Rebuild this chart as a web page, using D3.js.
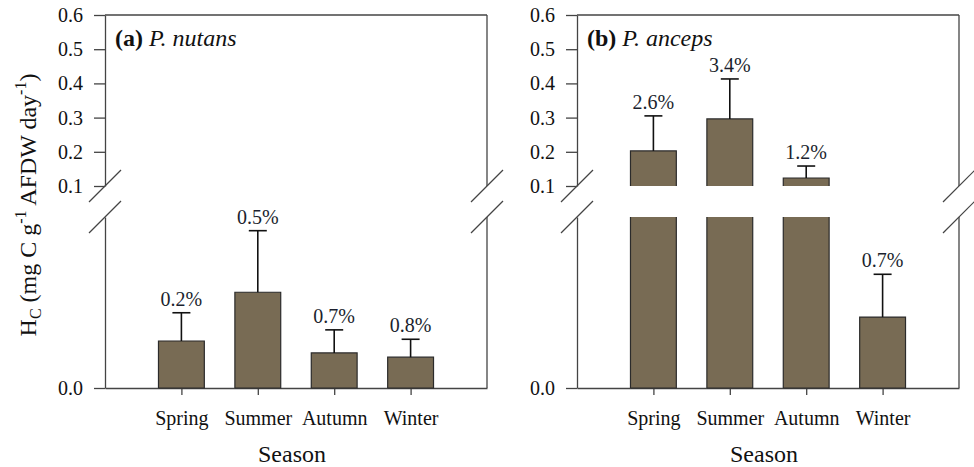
<!DOCTYPE html>
<html>
<head>
<meta charset="utf-8">
<script src="https://cdn.jsdelivr.net/npm/d3@7"></script>
<style>
  body { margin: 0; background: #fff; }
  svg { display: block; }
</style>
</head>
<body>
<svg id="chart" width="974" height="467"></svg>
<script>
const seasons = ["Spring", "Summer", "Autumn", "Winter"];

// P. nutans (all values below the break)
const nutansMean = [0.0055, 0.0112, 0.0041, 0.0036];
const nutansErr = [0.0033, 0.0072, 0.0027, 0.0021];
const nutansPct = ["0.2%", "0.5%", "0.7%", "0.8%"];

// P. anceps
const ancepsMean = [0.2025, 0.296, 0.1234, 0.0083];
const ancepsErr = [0.1025, 0.117, 0.035, 0.005];
const ancepsPct = ["2.6%", "3.4%", "1.2%", "0.7%"];

const topTicks = [0.1, 0.2, 0.3, 0.4, 0.5, 0.6];
const bottomTicks = [0.0];

const serif = "'Liberation Serif', 'Times New Roman', 'DejaVu Serif', serif";
const axisColor = "#444";

const panelWidth = 382;
const breakTop = 186;   // bottom of upper segment (0.1)
const breakLow = 217;   // top of lower segment

const x = d3.scaleLinear().domain([0, 5]).range([0, panelWidth]);
const yTop = d3.scaleLinear().domain([0.1, 0.6]).range([breakTop, 15]);
const yBot = d3.scaleLinear().domain([0, 0.02]).range([388, breakLow]);
const y = v => v >= yTop.domain()[0] ? yTop(v) : yBot(v);

const barWidth = x(0.6) - x(0);
const barFill = "#786b54";
const barStroke = "#2b2b2b";

const svg = d3.select("#chart");

function styleAxis(sel) {
  sel.attr("font-family", serif).attr("font-size", 20);
  sel.selectAll("path, line").attr("stroke", axisColor).attr("stroke-width", 1.3);
  sel.selectAll("text").attr("fill", "#111");
}

const panels = [
  { left: 105, tag: "(a)", name: "P. nutans", mean: nutansMean, err: nutansErr, pct: nutansPct },
  { left: 577, tag: "(b)", name: "P. anceps", mean: ancepsMean, err: ancepsErr, pct: ancepsPct }
];

panels.forEach(p => {
  const g = svg.append("g").attr("transform", `translate(${p.left},0)`);

  // axes
  g.append("g")
    .call(d3.axisLeft(yTop).tickValues(topTicks).tickFormat(d3.format(".1f"))
      .tickSize(11).tickPadding(11).tickSizeOuter(0))
    .call(styleAxis);
  g.append("g")
    .call(d3.axisLeft(yBot).tickValues(bottomTicks).tickFormat(d3.format(".1f"))
      .tickSize(11).tickPadding(11).tickSizeOuter(0))
    .call(styleAxis);
  g.append("g")
    .attr("transform", `translate(0,${yBot(0)})`)
    .call(d3.axisBottom(x).tickValues([1, 2, 3, 4]).tickFormat(i => seasons[i - 1])
      .tickSize(7).tickPadding(16).tickSizeOuter(0))
    .call(styleAxis);

  // frame: top and right
  g.append("line").attr("x1", 0).attr("x2", panelWidth)
    .attr("y1", yTop(0.6)).attr("y2", yTop(0.6))
    .attr("stroke", axisColor).attr("stroke-width", 1.3);
  g.append("line").attr("x1", panelWidth).attr("x2", panelWidth)
    .attr("y1", yTop(0.6)).attr("y2", breakTop)
    .attr("stroke", axisColor).attr("stroke-width", 1.3);
  g.append("line").attr("x1", panelWidth).attr("x2", panelWidth)
    .attr("y1", breakLow).attr("y2", yBot(0))
    .attr("stroke", axisColor).attr("stroke-width", 1.3);

  // break marks
  [0, panelWidth].forEach(ax => {
    [breakTop, breakLow].forEach(yc => {
      g.append("line")
        .attr("x1", ax - 16).attr("y1", yc + 16)
        .attr("x2", ax + 16).attr("y2", yc - 16)
        .attr("stroke", axisColor).attr("stroke-width", 1.2);
    });
  });

  // bars
  p.mean.forEach((m, i) => {
    const x0 = x(i + 1) - barWidth / 2;
    const x1 = x(i + 1) + barWidth / 2;
    const pieces = [];
    if (m >= yTop.domain()[0]) {
      pieces.push({ bottom: yBot(0), top: breakLow, closedTop: false });
      pieces.push({ bottom: breakTop, top: yTop(m), closedTop: true, openBottom: true });
    } else {
      pieces.push({ bottom: yBot(0), top: yBot(m), closedTop: true });
    }
    pieces.forEach(pc => {
      g.append("rect")
        .attr("x", x0).attr("y", pc.top)
        .attr("width", x1 - x0).attr("height", pc.bottom - pc.top)
        .attr("fill", barFill);
      const path = d3.path();
      path.moveTo(x0, pc.bottom);
      path.lineTo(x0, pc.top);
      if (pc.closedTop) path.lineTo(x1, pc.top); else path.moveTo(x1, pc.top);
      path.lineTo(x1, pc.bottom);
      if (!pc.openBottom) path.lineTo(x0, pc.bottom);
      g.append("path").attr("d", path.toString())
        .attr("fill", "none").attr("stroke", barStroke).attr("stroke-width", 1.2);
    });

    // error bar
    const cx = x(i + 1);
    const yMean = y(m);
    const yErr = y(m + p.err[i]);
    g.append("line").attr("x1", cx).attr("x2", cx)
      .attr("y1", yMean).attr("y2", yErr)
      .attr("stroke", "#111").attr("stroke-width", 1.6);
    g.append("line").attr("x1", cx - 9).attr("x2", cx + 9)
      .attr("y1", yErr).attr("y2", yErr)
      .attr("stroke", "#111").attr("stroke-width", 1.6);

    g.append("text")
      .attr("x", cx).attr("y", yErr - 7)
      .attr("text-anchor", "middle")
      .attr("font-family", serif)
      .attr("font-size", 20)
      .attr("fill", "#1b1f2e")
      .text(p.pct[i]);
  });

  // panel title
  const title = g.append("text")
    .attr("x", 10).attr("y", 46)
    .attr("font-family", serif)
    .attr("font-size", 24).attr("fill", "#111");
  title.append("tspan").attr("font-weight", "bold").text(p.tag);
  title.append("tspan").attr("font-style", "italic").text(" " + p.name);

  // x label
  g.append("text")
    .attr("x", panelWidth / 2 - 4).attr("y", 462)
    .attr("text-anchor", "middle")
    .attr("font-family", serif)
    .attr("font-size", 24).attr("fill", "#111")
    .text("Season");
});

// y label
const yl = svg.append("text")
  .attr("transform", "translate(36,205) rotate(-90)")
  .attr("text-anchor", "middle")
  .attr("font-family", serif)
  .attr("font-size", 24).attr("fill", "#111");
yl.append("tspan").text("H");
yl.append("tspan").attr("font-size", 16).attr("dy", 5).text("C");
yl.append("tspan").attr("dy", -5).text(" (mg C g");
yl.append("tspan").attr("font-size", 16).attr("dy", -10).text("-1");
yl.append("tspan").attr("dy", 10).text(" AFDW day");
yl.append("tspan").attr("font-size", 16).attr("dy", -10).text("-1");
yl.append("tspan").attr("dy", 10).text(")");
</script>
</body>
</html>
